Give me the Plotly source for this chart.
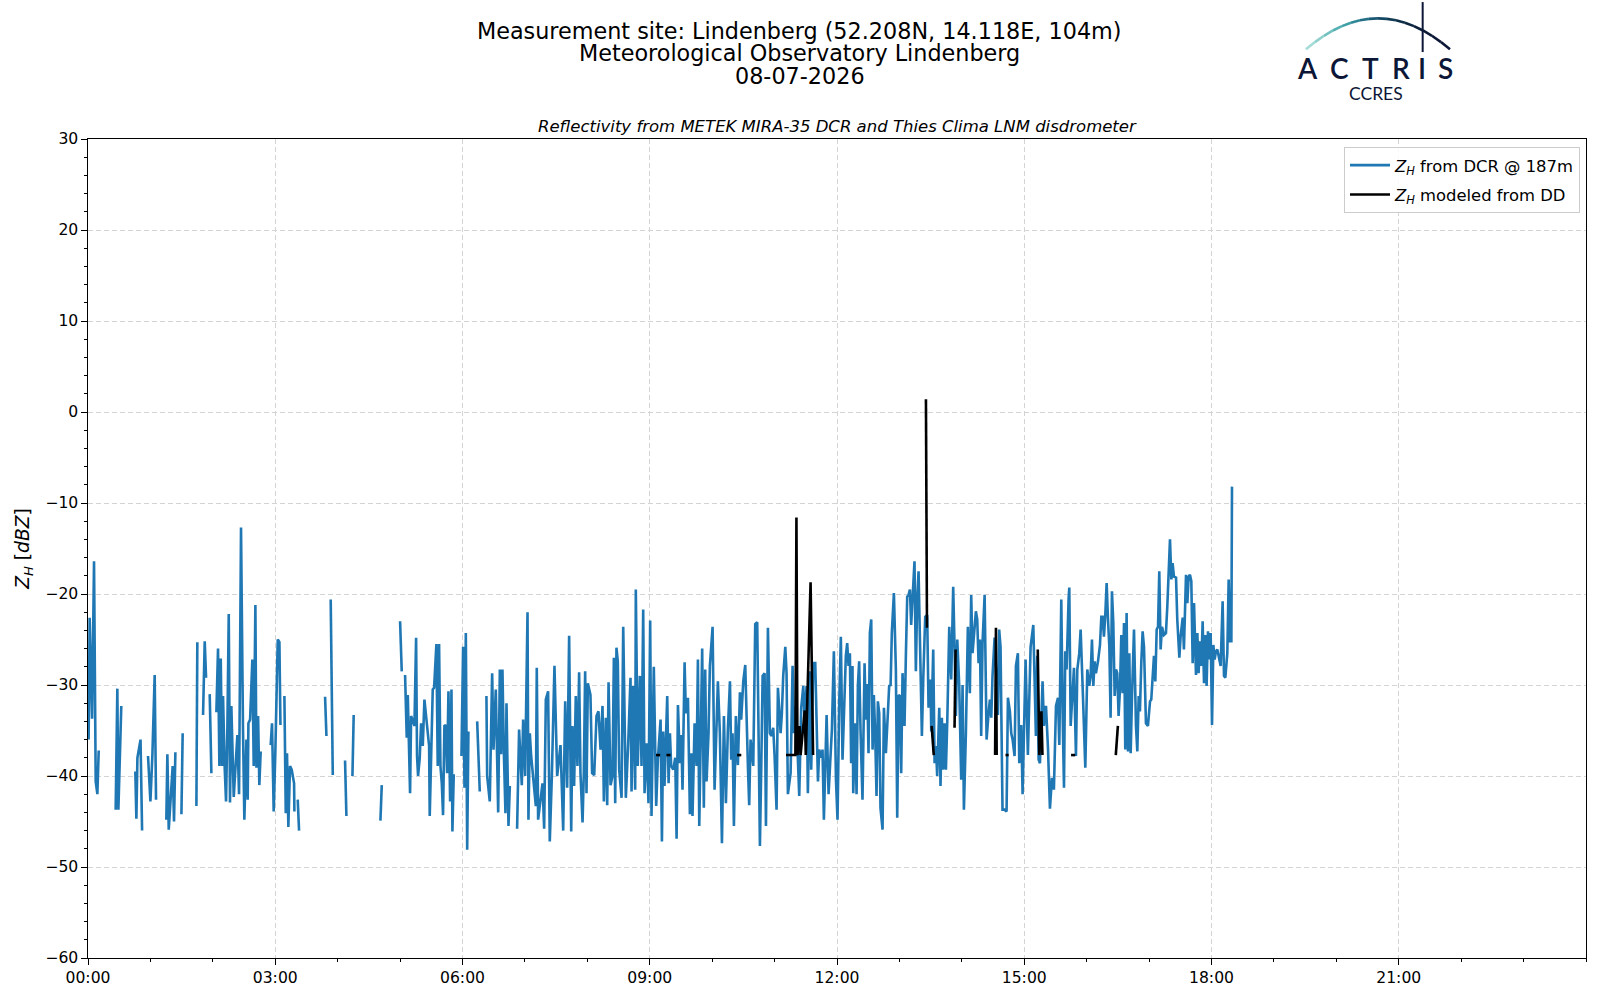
import plotly.graph_objects as go

# ---------------- data (time in minutes after 00:00 UTC, reflectivity in dBZ) ----------------
# Z_H from DCR @ 187m, read in 3-hour blocks; None marks a gap in the record
dcr_t_00_03 = [0.6, 1.6, 3.9, 5.8, 7.4, 9, 10.3, None, 26.6, 28.2, 29.2, 32, None,
               45.5, 46.5, 47.5, 50.5, 52, None, 57.7, 60, 61.9, 64.1, 65.4, None,
               75.3, 76.3, 77.6, 79.5, 81.4, 82.7, 84, None, 89.8, 91, None, 104.2, 105.1, None,
               110.6, 112.2, 113.5, None, 117, 118.6, None,
               123.4, 125, 126.3, 127.6, 128.9, 129.8, 131.4, 132.7, 134, 135.3,
               136.5, 137.8, 140.1, 141.7, 143.6, 145.2, 147.1, 149, 150.3, 152.3,
               153.5, 154.2, 155.8, 158, 159.3, 160.9, 161.9, 163.5, 164.7, 166, None,
               175.6, 176.9, 178.5]
dcr_z_00_03 = [-36, -22.6, -33.7, -16.4, -40.6, -42, -37.2, None, -43.7, -30.4, -43.7, -32.3, None,
               -39.5, -44.7, -38, -36, -46, None, -37.8, -42.8, -37.7, -28.9, -42.6, None,
               -44.8, -37.6, -45.9, -41.9, -38.9, -45, -37.4, None, -44.2, -35.3, None, -43.3, -25.3, None,
               -33.3, -25.2, -29.2, None, -31, -39.7, None,
               -33, -26, -38.9, -27.1, -38.9, -31.2, -39.1, -42.8, -34.5, -22.2,
               -42.9, -32.3, -42.3, -39.2, -35.5, -42, -12.7, -34.9, -44.8, -36,
               -42.6, -34.2, -33.8, -27.2, -38.9, -21.2, -39.1, -33.4, -41, -37.3, None,
               -36.6, -34.2, -43.9]

dcr_t_03_06 = [180, 182.4, 184, 185, None, 188.8, 190.1, 191.3, 192.6, 194.2, 195.8, 198.1, 198.4, None,
               201.6, 202.9, None, 227.9, 229.2, None, 233.3, 235.3, None, 247.1, 248.4, None,
               254.2, 255.4, None, 281.1, 282.4, None, 300, 301.6, None,
               304.8, 306.4, 307.4, 309.6, 310.6, 313.8, 315.4, 316.3, 317.3, 318.9,
               320.2, 321.8, 323.4, 327.9, 328.5, 329.8, 331.4, 332.7, 334.9, 336.2,
               337.5, 338.8, 340.1, 341.3, 342.6, 343.9, 345.2, 346.5, 348.1, 349.4,
               350.3, 351.6, None, 359]
dcr_z_03_06 = [-37.8, -25, -25.3, -34.4, None, -31.2, -44.1, -37.5, -45.6, -38.9, -39.3, -40.8, -43.9, None,
               -42.6, -46, None, -31.3, -35.6, None, -20.6, -39.9, None, -38.3, -44.4, None,
               -40, -33.3, None, -44.9, -41, None, -23, -28.5, None,
               -28.9, -35.8, -31.1, -41.9, -33.4, -34.5, -24.8, -37.8, -40, -38,
               -34.2, -36.7, -31.6, -36.7, -44.4, -38.8, -30.5, -30.3, -25.5, -38.9,
               -25.5, -38.9, -40.8, -44.3, -34.5, -34.4, -39.7, -30.7, -42.8, -30.5,
               -46.1, -39.8, None, -37.8]

dcr_t_06_09 = [360.6, 361.9, 363.2, 364.5, 365.7, None, 374.1, 376.6, None,
               383, 383.7, 386.2, 388.5, 389.8, 392, 394.3, 395.9, 397.1, 398.4,
               399.7, 401.3, 402.3, 404.2, 405.5, None,
               412.5, 414.4, 417, 418.3, 420.2, 422.5, 423.4, 424.7, 426, 429.2,
               430.5, 431.4, 432.7, 436.9, 438.5, 440.1, 442.3, 443.9, 445.9, 448.4,
               451, 454.2, 456.8, 458.7, 460.6, 462.5, 464.5, 465.7, 467.3, 468.9,
               470.5, 472.1, 473.4, 475.4, 476.6, 477.9, 479.2, 480.5, 483, 484.6,
               486.6, 488.8, 490.7, 492.7, 494.6, 495.9, 497.8, 499.1, 500.4, 502.3,
               504.2, 505.5, 506.8, 508, 509.3, 510.6, 512.9, 514.5, 517, 519.3,
               521.5, 522.5, 524.1, 526, 526.6, 528.5, 530.5, 532.1, 533.7, 535,
               536.9, 538.8]
dcr_z_06_09 = [-25.8, -41.3, -24.3, -48.1, -35.1, None, -34, -41.7, None,
               -31.2, -40, -42.8, -28.7, -37.1, -30.5, -44, -28.3, -37.6, -28.3,
               -37.1, -44.1, -32, -45.5, -41.1, None,
               -45.8, -34.9, -41, -33.8, -40, -22, -44.8, -35.3, -37.8, -42,
               -43.3, -28.1, -44.8, -40.8, -45.8, -31.6, -30.7, -47.2, -40, -27.9,
               -40, -36.6, -46, -31.8, -41.3, -24.6, -46.1, -34.5, -41.1, -31.2,
               -38.9, -28.6, -39.7, -45.1, -39.7, -28.5, -41.9, -29.8, -31.1, -39.7,
               -39.9, -33.4, -32.9, -37.1, -32.3, -42.8, -33.6, -43.2, -29.7, -41,
               -40, -27, -43, -25.9, -27.4, -39.3, -42.4, -23.6, -42.4, -36.4,
               -29.2, -41.7, -30.1, -41.5, -19.5, -38.9, -29, -38.9, -21.7, -41.9,
               -36.4, -43]

dcr_t_09_12 = [540.4, 541.7, 543.9, 546.2, 547.8, 550.4, 551.7, 552.9, 554.2, 556.8,
               558.1, 559.4, 560.6, 562.6, 564.5, 565.8, 567.1, 569, 570.3, 571.5,
               573.5, 574.7, 576.7, 578.6, 579.9, 581.1, 583.1, 585, 586.3, 587.6,
               588.8, 590.4, 592, 593.3, 594.6, 596.5, 597.8, 600.4, 602.3, 604.2,
               605.5, 607.4, 609.4, 611.3, 613.2, 615.1, 617.1, 618.3, 619.6, 620.9,
               622.8, 624.7, 626.7, 627.9, 629.9, 631.8, 633.1, 634.4, 635.6, 636.9,
               639.5, 641.4, 643.3, 644.6, 645.9, 647.2, 648.5, 650.4, 651.7, 653.6,
               655.5, 656.8, 658.7, 660, 661.9, 663.2, 665.8, 667, 668.3, 670.3,
               671.5, 672.8, 675.4, 677.3, 678.6, 680.5, 682.4, 683.7, 685.6, 687.6,
               688.8, 690.8, 692, 694, 695.2, 697.2, 699.1, 700.4, 701.7, 702.9,
               704.9, 706.1, 707.4, 710, 711.9, 715.1, 717, 719]
dcr_z_09_12 = [-22.9, -44.4, -28, -43.3, -38.2, -33.8, -47.2, -35.1, -41.1, -31.2,
               -40.8, -35.3, -38.9, -39.3, -38, -46.9, -32.2, -38.6, -35.5, -41.5,
               -27.5, -33.1, -31.4, -44.2, -37.5, -44.4, -34.2, -38.9, -27.2, -45.5,
               -35.3, -26, -43.5, -28.3, -40.6, -35.3, -27.9, -23.6, -41.5, -35.3,
               -29.6, -35.3, -47.4, -33.4, -43, -34.9, -29.6, -38.2, -35.3, -45.5,
               -33.4, -38.8, -30.8, -33.8, -29.6, -27.8, -34.5, -39.1, -43.2, -36,
               -38.9, -23.3, -23.1, -36, -47.7, -38.9, -29, -28.7, -45.5, -23.7,
               -35.3, -35.6, -34.7, -37.8, -43.7, -30.3, -35.3, -33.1, -29, -25.8,
               -28.7, -42, -39.7, -27.9, -35.3, -32.3, -37.5, -42.2, -32.5, -30.1,
               -33.8, -30.1, -41.9, -28.5, -39.3, -27.6, -27.6, -34.2, -40.6, -37.1,
               -38, -37.1, -44.8, -33.3, -42, -34.9, -26.3, -40.4]

dcr_t_12_15 = [720.5, 722.1, 723.7, 725.3, 728.5, 729.8, 731.1, 732.4, 733.6, 734.9,
               735.6, 737.5, 738.8, 740.1, 741.3, 742.6, 744.5, 746.5, 747.7, 749,
               750.3, 751.6, 752.9, 754.2, 755.4, 756.7, 758, 759.3, 760.6, 761.8,
               763.8, 765.1, 767, 768.9, 770.2, 771.5, 772.7, 774.7, 776.6, 777.9,
               779.2, 780.4, 781.7, 783, 784.9, 786.2, 787.5, 788.8, 790.1, 791.3,
               792.6, 794.5, 795.8, 797.1, 798.4, 799.7, 801.6, 802.9, 804.8, 806.7,
               808, 809.9, 810.6, 812.5, 813.8, 815.1, 816.3, 818.3, 819.5, 820.8,
               822.1, 823.4, 824.7, 826, 827.9, 829.8, 831.7, 833, 834.3, 835.6,
               837.5, 839.4, 840.7, 842, 843.9, 845.8, 847.7, 849, 850.3, 853.5,
               854.8, 856.1, 857.4, 858.6, 859.9, 861.9, 863.8, 865.7, 867, 868.3,
               869.5, 871.5, 872.7, 874.7, 875.9, 877.2, 879.1, 881.1, 883, 884.3,
               886.2, 887.5, 888.8, 890.7, 892, 893.9, 895.2, 897.1, 898.4]
dcr_z_12_15 = [-44.8, -32.2, -24.7, -38.2, -26.8, -25.4, -27.9, -26.5, -38.6, -27.9,
               -41.9, -34.2, -42, -30, -27.4, -34.9, -42.6, -27.6, -33.8, -29.9,
               -37.5, -24.3, -22.8, -37.1, -31.1, -35.3, -42.2, -31.8, -33.1, -43.5,
               -45.9, -32.5, -37.5, -33.1, -30, -30.1, -24.3, -19.9, -28.3, -44.6,
               -31.1, -31.2, -39.7, -28.7, -34.5, -26.8, -20.3, -20.1, -19.5, -23.4,
               -20.6, -16.4, -28.5, -20.6, -17.5, -25.8, -35.6, -29.4, -22.5, -22.3,
               -32.5, -29.4, -35.1, -26.1, -38.6, -36.7, -40, -32.5, -41.1, -33.6,
               -39.3, -34.2, -39.3, -34, -23.6, -29.4, -19.2, -25.8, -33.4, -25,
               -30.1, -40.4, -30, -43.7, -35.3, -23.6, -30.9, -20.1, -26.5, -21.9,
               -22.8, -27.6, -25, -35.6, -25.4, -20.1, -36, -33.1, -31.6, -33.6,
               -29, -24.8, -27.6, -33.3, -23.9, -25.8, -43.7, -43.7, -43.9, -31.4,
               -32.9, -35.3, -36, -37.8, -27.9, -26.5, -38.6, -34.4, -42]

dcr_t_15_18 = [901.3, 903.5, 906.1, 908.7, 910, 911.2, 912.5, 913.8, 915.1, 916.4,
               917.6, 918.9, 920.9, 922.8, 924.7, 926.6, 928.5, 930.5, 932.4, 933.7,
               935.6, 936.9, 938.2, 939.4, 940.7, 942.6, 943.3, 944.6, 946.5, 947.8,
               949.7, 951, 952.9, 954.2, 956.1, 957.4, 958.7, 960.6, 962.5, 963.8,
               965.1, 966.4, 967.6, 968.9, 970.9, 972.8, 974.1, 975.3, 976.6, 977.9,
               979.2, 980.5, 981.8, 983, 984.3, 985.6, 986.9, 988.2, 989.4, 990.7,
               992, 993.3, 994.6, 995.9, 997.1, 998.4, 999.7, 1001, 1002.3, 1003.5,
               1005.5, 1007.4, 1008.7, 1010, 1011.2, 1012.5, 1013.8, 1015.1, 1017, 1018.9,
               1020.9, 1022.1, 1023.4, 1024.7, 1026, 1027.3, 1028.6, 1029.8, 1031.1, 1032.4,
               1034.3, 1036.2, 1037.5, 1038.8, 1040.1, 1041.4, 1042.6, 1043.9, 1045.9, 1047.1,
               1049.1, 1050.3, 1052.3, 1053.5, 1055.5, 1056.8, 1058, 1059.3, 1060.6, 1061.9,
               1063.2, 1065.1, 1066.4, 1067.6, 1068.9, 1070.2, 1071.5, 1072.8, 1074.1, 1075.3,
               1076.6, 1077.9, 1079.2, 1080.5, 1081.8, 1083, 1084.3, 1085.6, 1087.5, 1088.8,
               1090.7, 1092, 1093.3, 1095.2, 1096.5, 1097.8, 1099.1, 1099.7]
dcr_z_15_18 = [-27.2, -37.7, -25.8, -23.4, -30.1, -35.6, -26.8, -38.2, -38.6, -33.8,
               -29.6, -34.5, -32.3, -36.9, -43.6, -40.2, -41.5, -32.3, -31.4, -36.6,
               -20.6, -33.1, -41.3, -26.3, -28.3, -20.6, -19.3, -34.5, -31.2, -28.1,
               -37.8, -28.3, -26.5, -23.9, -30.1, -33.8, -39.1, -28.3, -30.1, -29,
               -25, -30.1, -27.4, -28.7, -27.4, -25.6, -22.5, -22.5, -24.7, -22.3,
               -18.8, -22.8, -25.8, -33.6, -19.7, -23.2, -31.2, -28.3, -28.7, -33.4,
               -30.5, -24.5, -30.9, -23.2, -37.1, -22.1, -37.3, -26.5, -37.5, -31.6,
               -23.9, -34.5, -37.3, -31.2, -32.9, -27.6, -24.1, -25.8, -34.2, -34.5,
               -31.8, -31.6, -29, -26.8, -29.6, -23.9, -23.6, -17.5, -26.1, -23.6,
               -24.5, -24.3, -21.4, -18.4, -14, -18.4, -16.6, -18.1, -18.2, -22.8,
               -27, -24.7, -22.6, -26.1, -17.9, -21, -18.1, -17.9, -18.6, -27.6,
               -21, -28.9, -24.3, -28.7, -25.2, -27.9, -23, -29.8, -24.5, -30.1,
               -24.1, -27.2, -24.3, -34.4, -25.6, -27.2, -26.3, -26.1, -27.4, -27.9,
               -20.8, -29, -29.2, -26.5, -18.4, -25.2, -25.2, -8.2]

# Z_H modeled from disdrometer (DD)
dd_t = [546, 550, None, 556, 560, None, 624, 628, None,
        671, 675, 680, 681, 682, 684, 685, 689, 690, 694.6, 697, None,
        805.5, 806.5, None, 811, 813, None, 833, 834, None,
        872, 872.8, 873.5, None, 882, 885, None,
        913, 914.5, 916.5, 917.5, None, 945, 949, None, 988, 990]
dd_z = [-37.7, -37.7, None, -37.7, -37.7, None, -37.7, -37.7, None,
        -37.7, -37.7, -37.7, -11.6, -37.7, -34.5, -37.7, -32.8, -37.7, -18.7, -37.7, None,
        1.4, -23.7, None, -34.5, -37.7, None, -34.7, -26.1, None,
        -37.7, -23.7, -37.7, None, -37.7, -37.7, None,
        -26.1, -37.7, -32.9, -37.7, None, -37.7, -37.7, None, -37.7, -34.5]

time_tick_hours = [0, 3, 6, 9, 12, 15, 18, 21]
time_tick_labels = ["00:00", "03:00", "06:00", "09:00", "12:00", "15:00", "18:00", "21:00"]
zh_ticks = [-60, -50, -40, -30, -20, -10, 0, 10, 20, 30]
zh_tick_labels = ["\u221260", "\u221250", "\u221240", "\u221230", "\u221220", "\u221210",
                  "0", "10", "20", "30"]

title_lines = ["Measurement site: Lindenberg (52.208N, 14.118E, 104m)",
               "Meteorological Observatory Lindenberg",
               "08-07-2026"]
subtitle = "Reflectivity from METEK MIRA-35 DCR and Thies Clima LNM disdrometer"
legend_labels = ["<i>Z<sub>H</sub></i> from DCR @ 187m", "<i>Z<sub>H</sub></i> modeled from DD"]

# ---------------- assemble ----------------
dcr_t = (dcr_t_00_03 + dcr_t_03_06 + dcr_t_06_09 + dcr_t_09_12 + dcr_t_12_15 + dcr_t_15_18)
dcr_z = (dcr_z_00_03 + dcr_z_03_06 + dcr_z_06_09 + dcr_z_09_12 + dcr_z_12_15 + dcr_z_15_18)
assert len(dcr_t) == len(dcr_z), (len(dcr_t), len(dcr_z))
assert len(dd_t) == len(dd_z)

to_h = lambda ts: [None if t is None else t / 60.0 for t in ts]

W, H = 1600, 1000
PL, PR, PT, PB = 88.3, 1586.0, 139.0, 958.5   # plot-area pixel box


def fx(px):
    return (px - PL) / (PR - PL)


def fy(py):
    return (PB - py) / (PB - PT)


FONT = "DejaVu Sans"
BLUE = "#1f77b4"
NAVY = "#0c1636"

fig = go.Figure()
fig.add_trace(go.Scatter(x=to_h(dcr_t), y=dcr_z, mode="lines", name=legend_labels[0],
                         line=dict(color=BLUE, width=2.6), connectgaps=False,
                         legendgroup="a"))
fig.add_trace(go.Scatter(x=to_h(dd_t), y=dd_z, mode="lines", name=legend_labels[1],
                         line=dict(color="black", width=2.6), connectgaps=False,
                         legendgroup="b"))

axis_common = dict(
    showline=True, linecolor="black", linewidth=1.25, mirror=True,
    ticks="outside", ticklen=5.5, tickwidth=1.25, tickcolor="black",
    showgrid=True, gridcolor="#d4d4d4", gridwidth=1, griddash="5px,3px",
    zeroline=False, tickfont=dict(family=FONT, size=15.6, color="black"),
)

fig.update_xaxes(range=[0, 24], tickmode="array", tickvals=time_tick_hours,
                 ticktext=time_tick_labels,
                 minor=dict(dtick=1, tick0=0, ticklen=3.2, tickwidth=1, tickcolor="black",
                            ticks="outside", showgrid=False),
                 **axis_common)
fig.update_yaxes(range=[-60, 30], tickmode="array", tickvals=zh_ticks, ticktext=zh_tick_labels,
                 minor=dict(dtick=2, tick0=0, ticklen=3.2, tickwidth=1, tickcolor="black",
                            ticks="outside", showgrid=False),
                 title=dict(text="<i>Z<sub>H</sub></i> [<i>dBZ</i>]",
                            font=dict(family=FONT, size=18.7, color="black"), standoff=10),
                 **axis_common)

annotations = []
for txt, py in zip(title_lines, [30.5, 53, 75.5]):
    annotations.append(dict(text=txt, x=fx(800), y=fy(py), xref="paper", yref="paper",
                            xanchor="center", yanchor="middle", showarrow=False,
                            font=dict(family=FONT, size=22.3, color="black")))
annotations.append(dict(text="<i>" + subtitle + "</i>", x=0.5, y=fy(126), xref="paper", yref="paper",
                        xanchor="center", yanchor="middle", showarrow=False,
                        font=dict(family=FONT, size=16.5, color="black")))

# ACTRIS / CCRES logo (decoration)
logo_letters = ["A", "C", "T", "R", "I", "S"]
logo_centres = [1308, 1340, 1371, 1401, 1422.5, 1446]
for ch, cx in zip(logo_letters, logo_centres):
    annotations.append(dict(text=ch, x=fx(cx), y=fy(68), xref="paper", yref="paper",
                            xanchor="center", yanchor="middle", showarrow=False,
                            font=dict(family="Lato", size=28, color=NAVY, weight=600)))
annotations.append(dict(text="CCRES", x=fx(1376.5), y=fy(93), xref="paper", yref="paper",
                        xanchor="center", yanchor="middle", showarrow=False,
                        font=dict(family="Lato", size=17.5, color=NAVY)))

shapes = []
# gradient arc drawn as short pieces of a quadratic Bezier
p0, p1, p2 = (1306, 49.3), (1378, -12.7), (1450, 49.3)
arc_cols = ["#a6dcd8", "#8fd0cd", "#72c1c1", "#55b0b3", "#3f9ea6", "#2f8797", "#236f86",
            "#1b5a75", "#154864", "#113a55", "#0f2f49", "#0d263f", "#0c1f39", "#0c1a36",
            "#0c1636", "#0c1636"]
n = len(arc_cols)


def bez(s):
    return ((1 - s) ** 2 * p0[0] + 2 * (1 - s) * s * p1[0] + s ** 2 * p2[0],
            (1 - s) ** 2 * p0[1] + 2 * (1 - s) * s * p1[1] + s ** 2 * p2[1])


for k in range(n):
    a, b = bez(k / n), bez((k + 1) / n)
    shapes.append(dict(type="line", xref="paper", yref="paper",
                       x0=fx(a[0]), y0=fy(a[1]), x1=fx(b[0]), y1=fy(b[1]),
                       line=dict(color=arc_cols[k], width=2.6)))
shapes.append(dict(type="line", xref="paper", yref="paper", x0=fx(1422.7), y0=fy(2),
                   x1=fx(1422.7), y1=fy(52), line=dict(color=NAVY, width=2)))

fig.update_layout(
    width=W, height=H,
    margin=dict(l=PL, r=W - PR, t=PT, b=H - PB, autoexpand=False),
    paper_bgcolor="white", plot_bgcolor="white",
    font=dict(family=FONT, size=15.6, color="black"),
    showlegend=True,
    legend=dict(x=fx(1580), y=fy(147), xanchor="right", yanchor="top",
                bgcolor="rgba(255,255,255,0.85)", bordercolor="#cccccc", borderwidth=1,
                font=dict(family=FONT, size=16.4, color="black"),
                itemwidth=40, tracegroupgap=5, traceorder="grouped"),
    annotations=annotations,
    shapes=shapes,
)

fig.write_html("out.html", config={"displayModeBar": False},
               post_script="document.body.style.margin='0px';")
